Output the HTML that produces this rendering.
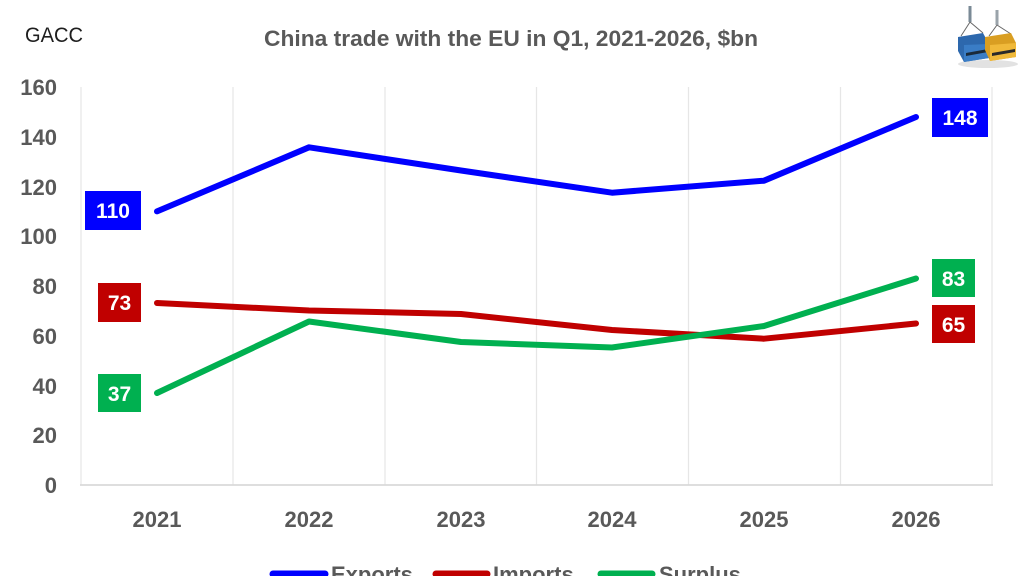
<!DOCTYPE html>
<html><head><meta charset="utf-8"><style>
html,body{margin:0;padding:0;background:#fff;}
svg{display:block;}
text{font-family:"Liberation Sans",Arial,sans-serif;}
</style></head><body>
<svg width="1024" height="576" viewBox="0 0 1024 576" xmlns="http://www.w3.org/2000/svg">
<rect width="1024" height="576" fill="#fff"/>
<!-- header -->
<text x="25" y="42" font-size="21" fill="#1e1e1e" textLength="58" lengthAdjust="spacingAndGlyphs">GACC</text>
<text x="264" y="46" font-size="22" font-weight="bold" fill="#595959" textLength="494" lengthAdjust="spacingAndGlyphs">China trade with the EU in Q1, 2021-2026, $bn</text>
<!-- logo -->
<g>
<ellipse cx="988" cy="64" rx="30" ry="4" fill="#e2e2e2"/>
<line x1="970" y1="6" x2="970" y2="22" stroke="#7a8a96" stroke-width="3"/>
<line x1="997" y1="10" x2="997" y2="25" stroke="#9aa3aa" stroke-width="3"/>
<line x1="970" y1="22" x2="961" y2="36" stroke="#666" stroke-width="1"/>
<line x1="970" y1="22" x2="983" y2="33" stroke="#666" stroke-width="1"/>
<line x1="997" y1="25" x2="989" y2="36" stroke="#666" stroke-width="1"/>
<line x1="997" y1="25" x2="1011" y2="34" stroke="#666" stroke-width="1"/>
<polygon points="958,37 983,33 989,44 989,58 964,62 958,51" fill="#2d68ad"/>
<polygon points="964,45 989,44 989,58 964,62" fill="#3a7dc6"/>
<polygon points="966,53 988,49 988,52 966,56" fill="#1a2a3a"/>
<polygon points="985,37 1011,33 1016,43 1016,57 990,61 985,50" fill="#d99e22"/>
<polygon points="990,45 1016,43 1016,57 990,61" fill="#f0b93a"/>
<polygon points="992,53 1015,49 1015,52 992,56" fill="#2a2a2a"/>
</g>
<!-- vertical gridlines -->
<g stroke="#e6e6e6" stroke-width="1.2">
<line x1="81" y1="87" x2="81" y2="485"/>
<line x1="233" y1="87" x2="233" y2="485"/>
<line x1="385" y1="87" x2="385" y2="485"/>
<line x1="536.5" y1="87" x2="536.5" y2="485"/>
<line x1="688.5" y1="87" x2="688.5" y2="485"/>
<line x1="840.5" y1="87" x2="840.5" y2="485"/>
<line x1="992" y1="87" x2="992" y2="485"/>
</g>
<line x1="80" y1="485" x2="993" y2="485" stroke="#d9d9d9" stroke-width="1.8"/>
<!-- y tick labels -->
<g font-size="22" font-weight="bold" fill="#595959" text-anchor="end">
<text x="57" y="95">160</text>
<text x="57" y="145">140</text>
<text x="57" y="195">120</text>
<text x="57" y="244">100</text>
<text x="57" y="294">80</text>
<text x="57" y="344">60</text>
<text x="57" y="394">40</text>
<text x="57" y="443">20</text>
<text x="57" y="493">0</text>
</g>
<!-- x tick labels -->
<g font-size="22" font-weight="bold" fill="#595959" text-anchor="middle">
<text x="157" y="527">2021</text>
<text x="309" y="527">2022</text>
<text x="461" y="527">2023</text>
<text x="612" y="527">2024</text>
<text x="764" y="527">2025</text>
<text x="916" y="527">2026</text>
</g>
<!-- series -->
<g fill="none" stroke-width="6" stroke-linecap="round" stroke-linejoin="round">
<polyline stroke="#0000ff" points="157,211.4 309,147.3 461,170.5 612,192.7 764,180.7 916,117"/>
<polyline stroke="#c00000" points="157,303 309,310.5 461,314 612,330 764,338.7 916,323.5"/>
<polyline stroke="#00b050" points="157,393 309,321.5 461,342 612,347.5 764,326 916,278.5"/>
</g>
<!-- data labels -->
<g font-size="21" font-weight="bold" fill="#fff" text-anchor="middle">
<rect x="85" y="191" width="56" height="39" fill="#0000ff"/>
<text x="113" y="218">110</text>
<rect x="98" y="283" width="43" height="39" fill="#c00000"/>
<text x="119.5" y="310">73</text>
<rect x="98" y="374" width="43" height="38" fill="#00b050"/>
<text x="119.5" y="401">37</text>
<rect x="932" y="98" width="56" height="39" fill="#0000ff"/>
<text x="960" y="125">148</text>
<rect x="932" y="259" width="43" height="38" fill="#00b050"/>
<text x="953.5" y="286">83</text>
<rect x="932" y="305" width="43" height="38" fill="#c00000"/>
<text x="953.5" y="332">65</text>
</g>
<!-- legend -->
<g stroke-width="7" stroke-linecap="round">
<line x1="273" y1="574" x2="325" y2="574" stroke="#0000ff"/>
<line x1="436" y1="574" x2="487" y2="574" stroke="#c00000"/>
<line x1="601" y1="574" x2="652" y2="574" stroke="#00b050"/>
</g>
<g font-size="22" font-weight="bold" fill="#595959">
<text x="331" y="582">Exports</text>
<text x="493" y="582">Imports</text>
<text x="659" y="582">Surplus</text>
</g>
</svg>
</body></html>
